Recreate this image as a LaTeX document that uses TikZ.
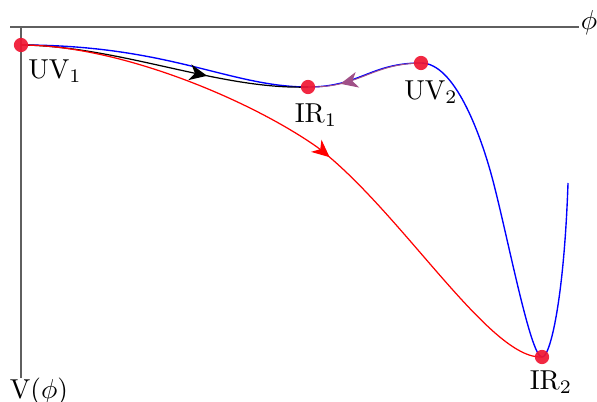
\documentclass[tikz,border=0pt]{standalone}
\usetikzlibrary{arrows.meta,decorations.markings}
\definecolor{dotred}{RGB}{240,22,50}
\definecolor{flowpurple}{RGB}{160,80,135}
\definecolor{axisgray}{RGB}{95,95,95}
\begin{document}
\begin{tikzpicture}[x=0.365pt,y=-0.365pt,
	fixpt/.style={circle, fill=dotred, fill opacity=0.92, inner sep=0pt, minimum size=5.2pt},
	flow/.style={line width=0.45pt, postaction={decorate},
		decoration={markings, mark=at position #1 with {\arrow{Stealth[length=6.4pt,width=5.8pt,inset=1.9pt]}}}}]
	\useasboundingbox (0,0) rectangle (597,402);
	% fixed points
	\coordinate (uv1) at (21,45);
	\coordinate (ir1) at (308,87);
	\coordinate (uv2) at (421,63);
	\coordinate (ir2) at (542,357);
	% axes
	\coordinate (xstart) at (10,27);
	\coordinate (xend) at (579,27);
	\coordinate (ytop) at (21,27);
	\coordinate (yend) at (21,378);
	\draw [axisgray] (xstart) -- (xend);
	\draw [axisgray] (ytop) -- (yend);
	\node [anchor=west, inner sep=0.5pt] (phi) at (579,23) {$\phi$};
	\node [anchor=north, inner sep=0pt] (vphi) at (39,377) {V$(\phi)$};
	% potential
	\draw [blue, line width=0.5pt] (uv1) .. controls (170,45) and (230,87) .. (ir1)
		.. controls (360,87) and (370,63) .. (uv2)
		.. controls (455,63) and (480,135) .. (490,170)
		.. controls (505,222) and (530,358) .. (ir2)
		.. controls (550,358) and (564,300) .. (568,183);
	% flows
	\draw [flow=0.65, black] (uv1) .. controls (120,46) and (220,90) .. (ir1);
	\draw [flow=0.53, red] (uv1) .. controls (120,45) and (250,100) .. (317,147)
		.. controls (400,210) and (490,360) .. (ir2);
	\draw [flow=0.72, flowpurple, line width=0.35pt] (uv2) .. controls (370,64) and (360,88) .. (ir1);
	%\draw [flow=0.5, red] (uv2) -- (ir2);
	\node [fixpt] (uv1dot) at (uv1) {};
	\node [fixpt] (ir1dot) at (ir1) {};
	\node [fixpt] (uv2dot) at (uv2) {};
	\node [fixpt] (ir2dot) at (ir2) {};
	\node (uv1lab) at (55,71) {UV$_1$};
	\node (ir1lab) at (316,115) {IR$_1$};
	\node (uv2lab) at (431,92) {UV$_2$};
	\node (ir2lab) at (551,382) {IR$_2$};
\end{tikzpicture}
\end{document}
